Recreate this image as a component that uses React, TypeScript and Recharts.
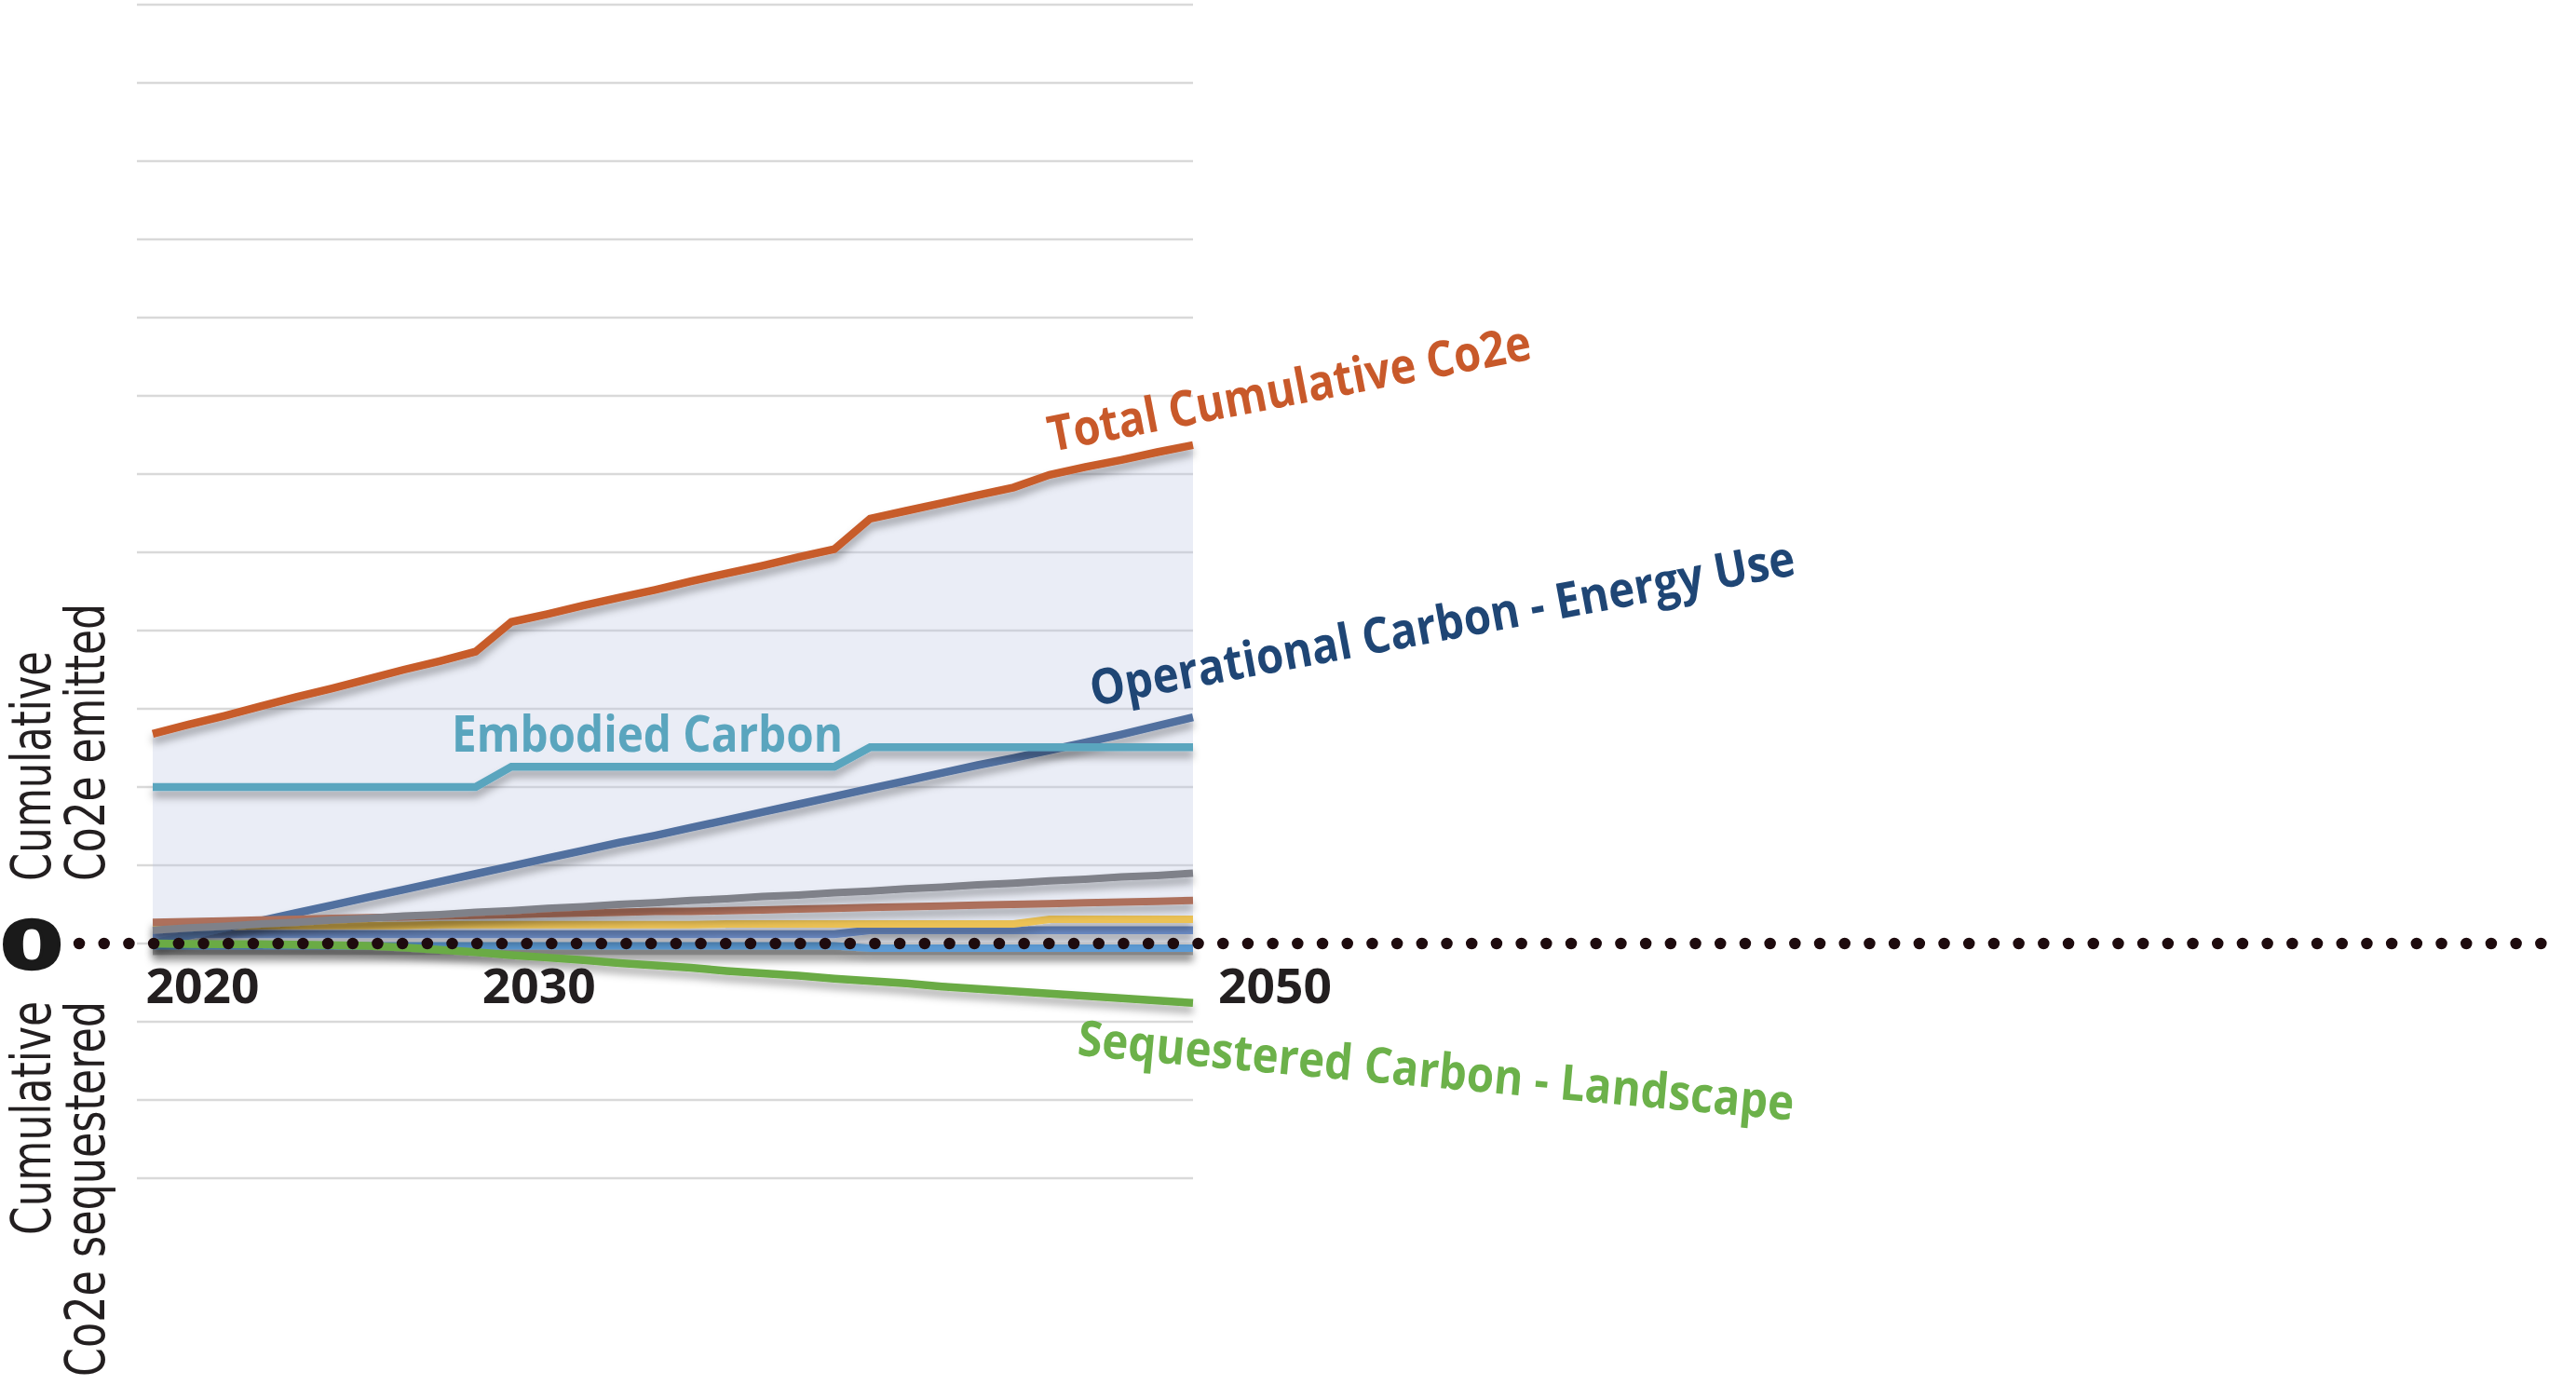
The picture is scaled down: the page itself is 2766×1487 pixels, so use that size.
import React from "react";
import {
  ComposedChart,
  Area,
  Line,
  XAxis,
  YAxis,
  CartesianGrid,
  ReferenceLine,
  ReferenceDot,
} from "recharts";

// cumulative values at each year end, in gridline units
const years = [
  2021, 2022, 2023, 2024, 2025, 2026, 2027, 2028, 2029, 2030,
  2031, 2032, 2033, 2034, 2035, 2036, 2037, 2038, 2039, 2040,
  2041, 2042, 2043, 2044, 2045, 2046, 2047, 2048, 2049, 2050,
];

const totalCo2e = [
  2.68, 2.8, 2.91, 3.03, 3.15, 3.26, 3.38, 3.5, 3.61, 3.73,
  4.11, 4.21, 4.32, 4.42, 4.52, 4.63, 4.73, 4.83, 4.94, 5.04,
  5.43, 5.53, 5.63, 5.73, 5.83, 5.99, 6.09, 6.18, 6.28, 6.37,
];

const embodiedCarbon = [
  2.0, 2.0, 2.0, 2.0, 2.0, 2.0, 2.0, 2.0, 2.0, 2.0,
  2.26, 2.26, 2.26, 2.26, 2.26, 2.26, 2.26, 2.26, 2.26, 2.26,
  2.51, 2.51, 2.51, 2.51, 2.51, 2.51, 2.51, 2.51, 2.51, 2.51,
];

const operationalCarbon = [
  0.0, 0.1, 0.2, 0.29, 0.39, 0.49, 0.59, 0.69, 0.79, 0.89,
  0.99, 1.09, 1.19, 1.29, 1.38, 1.48, 1.58, 1.68, 1.78, 1.88,
  1.98, 2.08, 2.18, 2.28, 2.37, 2.47, 2.57, 2.67, 2.78, 2.89,
];

const sequesteredCarbon = [
  0.0, -0.005, -0.01, -0.01, -0.015, -0.02, -0.03, -0.05, -0.08, -0.11,
  -0.15, -0.18, -0.21, -0.25, -0.28, -0.31, -0.35, -0.38, -0.41, -0.45,
  -0.48, -0.51, -0.55, -0.58, -0.61, -0.64, -0.67, -0.7, -0.73, -0.76,
];

const grayCarbon = [
  0.17, 0.2, 0.22, 0.25, 0.27, 0.3, 0.32, 0.35, 0.37, 0.4,
  0.42, 0.45, 0.47, 0.5, 0.52, 0.55, 0.57, 0.6, 0.62, 0.65,
  0.67, 0.7, 0.72, 0.75, 0.77, 0.8, 0.82, 0.85, 0.87, 0.9,
];

const brownCarbon = [
  0.27, 0.28, 0.29, 0.3, 0.31, 0.32, 0.33, 0.34, 0.35, 0.36,
  0.37, 0.38, 0.39, 0.4, 0.41, 0.41, 0.42, 0.43, 0.44, 0.45,
  0.46, 0.47, 0.48, 0.49, 0.5, 0.51, 0.52, 0.53, 0.54, 0.55,
];

const yellowCarbon = [
  0.22, 0.22, 0.22, 0.23, 0.23, 0.23, 0.23, 0.23, 0.24, 0.24,
  0.24, 0.24, 0.24, 0.24, 0.24, 0.24, 0.25, 0.25, 0.25, 0.25,
  0.25, 0.25, 0.25, 0.25, 0.25, 0.31, 0.31, 0.31, 0.31, 0.31,
];

const blueCarbon = [
  0.12, 0.12, 0.12, 0.12, 0.12, 0.12, 0.12, 0.12, 0.12, 0.12,
  0.12, 0.12, 0.12, 0.12, 0.12, 0.12, 0.12, 0.12, 0.12, 0.12,
  0.17, 0.17, 0.17, 0.17, 0.17, 0.17, 0.17, 0.17, 0.17, 0.17,
];

const lightBlueCarbon = [
  -0.03, -0.03, -0.03, -0.03, -0.03, -0.03, -0.03, -0.03, -0.03, -0.03,
  -0.03, -0.03, -0.03, -0.03, -0.03, -0.03, -0.03, -0.03, -0.03, -0.03,
  -0.06, -0.06, -0.06, -0.06, -0.06, -0.06, -0.06, -0.06, -0.06, -0.06,
];

const lightGrayCarbon = [
  -0.1, -0.1, -0.1, -0.1, -0.1, -0.1, -0.1, -0.1, -0.1, -0.1,
  -0.1, -0.1, -0.1, -0.1, -0.1, -0.1, -0.1, -0.1, -0.1, -0.1,
  -0.1, -0.1, -0.1, -0.1, -0.1, -0.1, -0.1, -0.1, -0.1, -0.1,
];

const gridTicks = [-3, -2, -1, 0, 1, 2, 3, 4, 5, 6, 7, 8, 9, 10, 11, 12];
const yearTicks = [2020, 2030, 2050];
const zeroLineEnds = [2018.95, 2088.2];

const chartData = years.map((year, i) => ({
  year,
  total: totalCo2e[i],
  embodied: embodiedCarbon[i],
  operational: operationalCarbon[i],
  sequestered: sequesteredCarbon[i],
  gray: grayCarbon[i],
  brown: brownCarbon[i],
  yellow: yellowCarbon[i],
  blue: blueCarbon[i],
  lightBlue: lightBlueCarbon[i],
  lightGray: lightGrayCarbon[i],
}));

// bottom to top drawing order
const lineSeries = [
  { key: "lightGray", color: "#a6a6a6", width: 8 },
  { key: "lightBlue", color: "#5b9bd5", width: 8 },
  { key: "blue", color: "#6d8dc8", width: 8.5 },
  { key: "yellow", color: "#ecc255", width: 8 },
  { key: "operational", color: "#51709f", width: 8.5 },
  { key: "brown", color: "#ad705c", width: 8 },
  { key: "gray", color: "#7f8189", width: 8 },
  { key: "sequestered", color: "#6aab45", width: 8.5 },
  { key: "embodied", color: "#5aa5be", width: 8.5 },
  { key: "total", color: "#c75b2a", width: 8.5 },
];

const W = 2766;
const H = 1487;
const LABEL_FONT = "'Open Sans', 'Noto Sans', sans-serif";
const SIDE_FONT = "'Liberation Sans Narrow', 'DejaVu Sans Condensed', sans-serif";
const INK = "#231f20";

const yearShift: Record<number, number> = { 2020: 31, 2030: 7, 2050: 27 };

const seriesLabel =
  (txt: string, tint: string, shiftX: number, shiftY: number, rot: number, span: number) =>
  (p: any) => {
    const x = p.cx + shiftX;
    const y = p.cy + shiftY;
    return (
      <text
        x={x}
        y={y}
        transform={`rotate(${rot} ${x} ${y})`}
        fill={tint}
        fontFamily={LABEL_FONT}
        fontWeight={700}
        fontSize={53}
        textLength={span}
        lengthAdjust="spacingAndGlyphs"
      >
        {txt}
      </text>
    );
  };

const yearLabel = (year: number) => (p: any) => (
  <text
    x={p.cx + yearShift[year]}
    y={p.cy + 64}
    fill={INK}
    fontFamily={LABEL_FONT}
    fontWeight={700}
    fontSize={52}
    textLength={122}
    lengthAdjust="spacingAndGlyphs"
  >
    {year}
  </text>
);

// big zero plus the two rotated side titles, hung off the left end of the dotted line
const zeroAxis = (p: any) => {
  const { cx, cy } = p;
  const side = (x: number, y: number, anchor: "start" | "end", txt: string, span: number) => (
    <text
      x={x}
      y={y}
      transform={`rotate(-90 ${x} ${y})`}
      textAnchor={anchor}
      fill={INK}
      fontFamily={SIDE_FONT}
      fontSize={58}
      textLength={span}
      lengthAdjust="spacingAndGlyphs"
    >
      {txt}
    </text>
  );
  return (
    <g>
      <g transform={`translate(${cx - 17} ${cy + 27}) scale(1.36 1)`}>
        <text
          x={0}
          y={0}
          textAnchor="end"
          fill="#1a1a1a"
          fontFamily="'DejaVu Sans', sans-serif"
          fontWeight={700}
          fontSize={72}
          stroke="#1a1a1a"
          strokeWidth={2.5}
        >
          0
        </text>
      </g>
      {side(cx - 31, cy - 67, "start", "Cumulative", 247)}
      {side(cx + 27, cy - 67, "start", "Co2e emitted", 298)}
      {side(cx - 31, cy + 62, "end", "Cumulative", 251)}
      {side(cx + 27, cy + 62, "end", "Co2e sequestered", 403)}
    </g>
  );
};

export default function App() {
  const last = years.length - 1;
  return (
    <div style={{ position: "absolute", left: 0, top: 0, width: W, height: H, background: "#fff" }}>
      <svg width={0} height={0} style={{ position: "absolute" }}>
        <defs>
          <filter id="lineShadow" filterUnits="userSpaceOnUse" x={0} y={0} width={W} height={H}>
            <feDropShadow dx={0} dy={7} stdDeviation={4.5} floodColor="#000" floodOpacity={0.32} />
          </filter>
        </defs>
      </svg>
      <ComposedChart
        width={W}
        height={H}
        data={chartData}
        margin={{ top: 5, right: 1485, bottom: 222, left: 147 }}
      >
        <CartesianGrid vertical={false} stroke="#d9d9d9" strokeWidth={2.5} />
        <XAxis
          dataKey="year"
          type="number"
          domain={[2021, 2050]}
          padding={{ left: 17, right: 0 }}
          hide
        />
        <YAxis type="number" domain={[-3, 12]} ticks={gridTicks} hide />
        <Area
          type="linear"
          dataKey="total"
          baseValue={0}
          stroke="none"
          fill="rgb(185,195,225)"
          fillOpacity={0.3}
          isAnimationActive={false}
        />
        {lineSeries.map((s) => (
          <Line
            key={s.key}
            type="linear"
            dataKey={s.key}
            stroke={s.color}
            strokeWidth={s.width}
            dot={false}
            activeDot={false}
            filter="url(#lineShadow)"
            isAnimationActive={false}
          />
        ))}
        <ReferenceLine
          segment={[
            { x: zeroLineEnds[0], y: 0 },
            { x: zeroLineEnds[1], y: 0 },
          ]}
          ifOverflow="visible"
          stroke="#1e0b0e"
          strokeWidth={12.5}
          strokeDasharray="0 26.7"
          strokeLinecap="round"
        />
        <ReferenceDot x={zeroLineEnds[0]} y={0} r={0} ifOverflow="visible" shape={zeroAxis} />
        {yearTicks.map((yr) => (
          <ReferenceDot key={yr} x={yr} y={0} r={0} ifOverflow="visible" shape={yearLabel(yr)} />
        ))}
        <ReferenceDot
          x={years[last]}
          y={totalCo2e[last]}
          r={0}
          ifOverflow="visible"
          shape={seriesLabel("Total Cumulative Co2e", "#c8592a", -152, 7, -10.9, 527)}
        />
        <ReferenceDot
          x={years[last]}
          y={operationalCarbon[last]}
          r={0}
          ifOverflow="visible"
          shape={seriesLabel("Operational Carbon - Energy Use", "#1f4675", -107, -12, -10.6, 769)}
        />
        <ReferenceDot
          x={years[0]}
          y={embodiedCarbon[0]}
          r={0}
          ifOverflow="visible"
          shape={seriesLabel("Embodied Carbon", "#5aa5be", 321, -38, 0, 420)}
        />
        <ReferenceDot
          x={years[last]}
          y={sequesteredCarbon[last]}
          r={0}
          ifOverflow="visible"
          shape={seriesLabel("Sequestered Carbon - Landscape", "#6cb14a", -125, 56, 5.2, 772)}
        />
      </ComposedChart>
    </div>
  );
}
